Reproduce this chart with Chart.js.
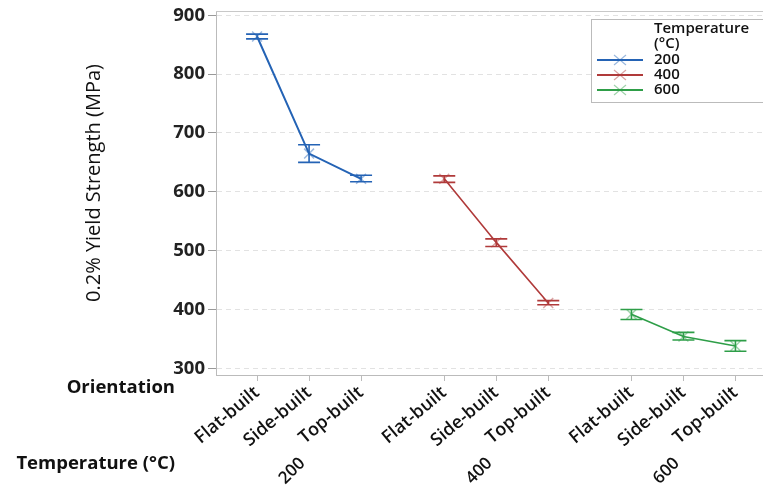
<!DOCTYPE html>
<html lang="en">
<head>
<meta charset="UTF-8">
<title>Yield Strength Interval Plot</title>
<style>
    body { margin: 0; background: #fff; }
    #wrap { width: 763px; height: 487px; }
</style>
</head>
<body>
<div id="wrap"><canvas id="chart" width="763" height="487"></canvas></div>
<script src="https://cdn.jsdelivr.net/npm/chart.js"></script>
<script>
    const orientations = ['Flat-built', 'Side-built', 'Top-built'];
    const temperatures = ['200', '400', '600'];
    const yTicks = [300, 400, 500, 600, 700, 800, 900];

    // mean and interval ends, in orientation order
    const mean200 = [864, 665, 622];
    const low200 = [860, 650, 617];
    const high200 = [868, 680, 628];
    const mean400 = [622, 514, 411];
    const low400 = [616, 507, 408];
    const high400 = [627, 520, 415];
    const mean600 = [392, 354, 338];
    const low600 = [383, 348, 329];
    const high600 = [400, 361, 347];

    const colors = ['#2463b5', '#b03a3a', '#2e9e48'];
    const markerColors = ['rgba(36,99,181,0.45)', 'rgba(176,58,58,0.45)', 'rgba(46,158,72,0.45)'];
    const groupStep = 3.6;
    const FONT = "'Open Sans', sans-serif";

    const means = [mean200, mean400, mean600];
    const lows = [low200, low400, low600];
    const highs = [high200, high400, high600];

    const datasets = temperatures.map((t, g) => ({
        label: t,
        data: orientations.map((o, i) => ({ x: g * groupStep + i, y: means[g][i] })),
        low: lows[g],
        high: highs[g],
        borderColor: colors[g],
        backgroundColor: colors[g],
        borderWidth: g === 0 ? 2 : 1.6,
        pointStyle: 'crossRot',
        pointRadius: 7,
        pointBorderColor: markerColors[g],
        pointBorderWidth: 1.5,
        tension: 0
    }));

    const tickValues = [];
    temperatures.forEach((t, g) => orientations.forEach((o, i) => tickValues.push(g * groupStep + i)));

    const errorBars = {
        id: 'errorBars',
        afterDatasetsDraw(chart) {
            const ctx = chart.ctx;
            const xs = chart.scales.x, ys = chart.scales.y;
            chart.data.datasets.forEach(ds => {
                ds.data.forEach((p, i) => {
                    const x = xs.getPixelForValue(p.x);
                    const yl = ys.getPixelForValue(ds.low[i]);
                    const yh = ys.getPixelForValue(ds.high[i]);
                    ctx.save();
                    ctx.strokeStyle = ds.borderColor;
                    ctx.lineWidth = 1.6;
                    ctx.beginPath();
                    ctx.moveTo(x, yl); ctx.lineTo(x, yh);
                    ctx.moveTo(x - 11, yl); ctx.lineTo(x + 11, yl);
                    ctx.moveTo(x - 11, yh); ctx.lineTo(x + 11, yh);
                    ctx.stroke();
                    ctx.restore();
                });
            });
        }
    };

    const extraText = {
        id: 'extraText',
        afterDraw(chart) {
            const ctx = chart.ctx;
            const xs = chart.scales.x;
            const area = chart.chartArea;
            ctx.save();
            // top frame line
            ctx.strokeStyle = '#c8c8c8';
            ctx.lineWidth = 1;
            ctx.beginPath();
            ctx.moveTo(area.left, area.top + 0.5);
            ctx.lineTo(area.right, area.top + 0.5);
            ctx.stroke();

            // y title
            ctx.fillStyle = '#111';
            ctx.font = '20px ' + FONT;
            ctx.textAlign = 'center';
            ctx.textBaseline = 'middle';
            ctx.save();
            ctx.translate(94, 183);
            ctx.rotate(-Math.PI / 2);
            ctx.fillText('0.2% Yield Strength (MPa)', 0, 0);
            ctx.restore();

            ctx.font = 'bold 18.5px ' + FONT;
            ctx.textAlign = 'right';
            ctx.fillText('Orientation', 175, 388);
            ctx.fillText('Temperature (°C)', 175, 464);
            // group labels under the middle tick of each group
            ctx.font = '600 17px ' + FONT;
            ctx.textAlign = 'center';
            temperatures.forEach((t, g) => {
                const x = xs.getPixelForValue(g * groupStep + 1) - 17;
                ctx.save();
                ctx.translate(x, 471);
                ctx.rotate(-Math.PI / 4);
                ctx.fillText(t, 0, 0);
                ctx.restore();
            });

            // legend box
            ctx.strokeStyle = '#bbb';
            ctx.lineWidth = 1;
            ctx.fillStyle = '#fff';
            ctx.fillRect(591.5, 19.5, 175, 83);
            ctx.strokeRect(591.5, 19.5, 175, 83);
            ctx.fillStyle = '#111';
            ctx.textAlign = 'left';
            ctx.font = '600 15px ' + FONT;
            ctx.fillText('Temperature', 654, 29);
            ctx.fillText('(°C)', 654, 44);
            chart.data.datasets.forEach((ds, g) => {
                const y = 60 + g * 15;
                ctx.strokeStyle = ds.borderColor;
                ctx.lineWidth = 2;
                ctx.beginPath();
                ctx.moveTo(597, y); ctx.lineTo(643, y);
                ctx.stroke();
                ctx.strokeStyle = ds.pointBorderColor;
                ctx.lineWidth = 1.2;
                ctx.beginPath();
                ctx.moveTo(614, y - 5); ctx.lineTo(626, y + 5);
                ctx.moveTo(614, y + 5); ctx.lineTo(626, y - 5);
                ctx.stroke();
                ctx.fillStyle = '#111';
                ctx.font = '600 15px ' + FONT;
                ctx.fillText(ds.label, 654, y);
            });
            ctx.restore();
        }
    };

    new Chart(document.getElementById('chart'), {
        type: 'line',
        data: { datasets },
        options: {
            responsive: false,
            animation: false,
            layout: { autoPadding: false, padding: { top: 11, left: 0, right: 0, bottom: 0 } },
            plugins: { legend: { display: false }, tooltip: { enabled: false } },
            scales: {
                x: {
                    type: 'linear',
                    min: -0.79,
                    max: 9.73,
                    afterBuildTicks: s => { s.ticks = tickValues.map(v => ({ value: v })); },
                    afterFit: s => { s.height = 112; s.paddingLeft = 0; s.paddingRight = 0; },
                    ticks: {
                        autoSkip: false,
                        minRotation: 40,
                        maxRotation: 40,
                        color: '#111',
                        font: { family: FONT, size: 18, weight: '600' },
                        padding: 1,
                        callback: (v, i) => orientations[i % 3]
                    },
                    grid: { drawOnChartArea: false, tickLength: 6, tickColor: '#bbb' },
                    border: { color: '#bbb' }
                },
                y: {
                    min: 288.6,
                    max: 907.3,
                    afterBuildTicks: s => { s.ticks = yTicks.map(v => ({ value: v })); },
                    afterFit: s => { s.width = 216; s.paddingTop = 0; s.paddingBottom = 0; },
                    ticks: {
                        color: '#222',
                        font: { family: FONT, size: 18.5, weight: 'bold' },
                        padding: 3
                    },
                    grid: { color: '#e2e2e2', tickLength: 8, tickColor: '#999', tickBorderDash: [] },
                    border: { color: '#bbb', dash: [5, 4] }
                }
            }
        },
        plugins: [errorBars, extraText]
    });
</script>
</body>
</html>
